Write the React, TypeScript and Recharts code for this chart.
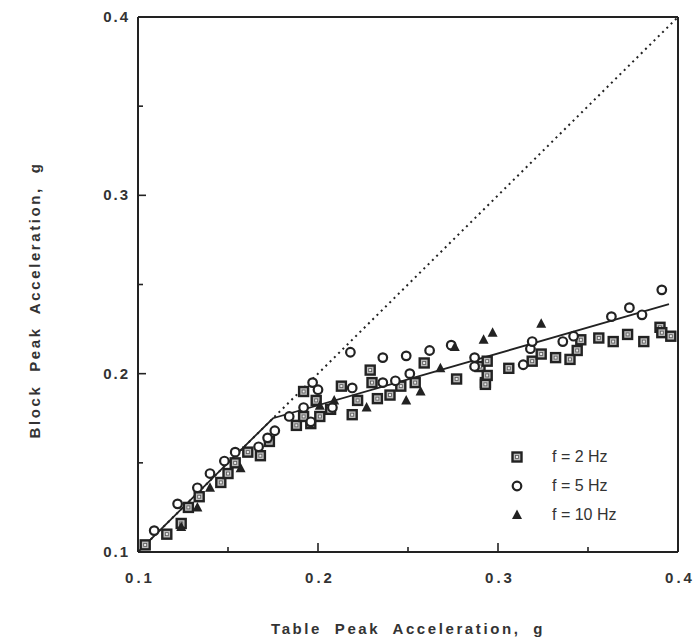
import React from "react";
import {
  ScatterChart,
  Scatter,
  XAxis,
  YAxis,
  ReferenceLine,
} from "recharts";

// f = 2 Hz (squares)
const hz2 = [
  [0.104, 0.104], [0.116, 0.11], [0.124, 0.116], [0.128, 0.125], [0.134, 0.131],
  [0.146, 0.139], [0.15, 0.144], [0.154, 0.15], [0.161, 0.156], [0.168, 0.154],
  [0.173, 0.162], [0.188, 0.171], [0.196, 0.172], [0.192, 0.19], [0.199, 0.185],
  [0.192, 0.176], [0.201, 0.176], [0.207, 0.18], [0.213, 0.193], [0.219, 0.177],
  [0.222, 0.185], [0.229, 0.202], [0.23, 0.195], [0.233, 0.186], [0.24, 0.188],
  [0.246, 0.193], [0.254, 0.195], [0.259, 0.206], [0.277, 0.197], [0.29, 0.204],
  [0.294, 0.207], [0.293, 0.195], [0.294, 0.199], [0.293, 0.194], [0.306, 0.203],
  [0.319, 0.207], [0.324, 0.211], [0.332, 0.209], [0.34, 0.208], [0.344, 0.213],
  [0.346, 0.219], [0.356, 0.22], [0.364, 0.218], [0.372, 0.222], [0.381, 0.218],
  [0.39, 0.226], [0.391, 0.223], [0.396, 0.221],
];

// f = 5 Hz (circles)
const hz5 = [
  [0.109, 0.112], [0.122, 0.127], [0.133, 0.136], [0.14, 0.144], [0.148, 0.151],
  [0.154, 0.156], [0.167, 0.159], [0.172, 0.164], [0.176, 0.168], [0.184, 0.176],
  [0.192, 0.181], [0.197, 0.195], [0.2, 0.191], [0.208, 0.181], [0.196, 0.173],
  [0.218, 0.212], [0.219, 0.192], [0.236, 0.209], [0.236, 0.195], [0.243, 0.196],
  [0.249, 0.21], [0.251, 0.2], [0.262, 0.213], [0.274, 0.216], [0.287, 0.209],
  [0.287, 0.204], [0.314, 0.205], [0.318, 0.214], [0.319, 0.218], [0.336, 0.218],
  [0.342, 0.221], [0.363, 0.232], [0.373, 0.237], [0.38, 0.233], [0.391, 0.247],
];

// f = 10 Hz (triangles)
const hz10 = [
  [0.124, 0.114], [0.133, 0.125], [0.14, 0.136], [0.157, 0.147], [0.201, 0.182],
  [0.209, 0.185], [0.227, 0.181], [0.249, 0.185], [0.257, 0.19], [0.268, 0.203],
  [0.276, 0.215], [0.292, 0.219], [0.297, 0.223], [0.324, 0.228],
];

// equality line and fitted line
const equality = [[0.1, 0.1], [0.4, 0.4]];
const fitted = [[0.1, 0.1], [0.175, 0.175], [0.395, 0.239]];

const xTicks = [0.1, 0.15, 0.2, 0.25, 0.3, 0.35, 0.4];
const yTicks = [0.1, 0.15, 0.2, 0.25, 0.3, 0.35, 0.4];

const toPts = (arr: number[][]) => arr.map(([x, y]) => ({ x, y }));

const INK = "#222";
const FONT = "'Liberation Sans', Arial, sans-serif";

const isMajor = (v: number) => Math.abs(v * 10 - Math.round(v * 10)) < 1e-6;

const SquareMark = ({ cx, cy }: any) => (
  <g>
    <rect x={cx - 4.5} y={cy - 4.5} width={9} height={9} fill="#bbb" stroke={INK} strokeWidth={2.4} />
    <rect x={cx - 1.5} y={cy - 1.5} width={3} height={3} fill="#eee" stroke="#555" strokeWidth={0.8} />
  </g>
);

const CircleMark = ({ cx, cy }: any) => (
  <circle cx={cx} cy={cy} r={4.3} fill="#fff" stroke={INK} strokeWidth={2.2} />
);

const TriMark = ({ cx, cy }: any) => (
  <path d={`M${cx},${cy - 5.5} L${cx + 5},${cy + 4} L${cx - 5},${cy + 4} Z`} fill={INK} />
);

const YTick = ({ x, y, payload }: any) => {
  const major = isMajor(payload.value);
  return (
    <g>
      <line x1={x} x2={x + (major ? 8 : 5)} y1={y} y2={y} stroke={INK} strokeWidth={1.6} />
      {major && (
        <text x={x - 8} y={y} dy={5} textAnchor="end" fontSize={15} fontWeight="bold"
          fontFamily={FONT} fill="#333" letterSpacing={2}>
          {payload.value.toFixed(1)}
        </text>
      )}
    </g>
  );
};

const XTick = ({ x, y, payload }: any) => {
  const major = isMajor(payload.value);
  return (
    <g>
      <line x1={x} x2={x} y1={y} y2={y - (major ? 9 : 5)} stroke={INK} strokeWidth={1.6} />
      {major && (
        <text x={x + 2} y={y + 31} textAnchor="middle" fontSize={15} fontWeight="bold"
          fontFamily={FONT} fill="#333" letterSpacing={3}>
          {payload.value.toFixed(1)}
        </text>
      )}
    </g>
  );
};

const legendItems = [
  { label: "f = 2 Hz", Mark: SquareMark },
  { label: "f = 5 Hz", Mark: CircleMark },
  { label: "f = 10 Hz", Mark: TriMark },
];

const LegendBox = () => (
  <svg width={150} height={90} style={{ position: "absolute", left: 509, top: 443 }}>
    {legendItems.map((it, i) => (
      <g key={it.label}>
        <it.Mark cx={8} cy={14 + i * 29} />
        <text x={43} y={19 + i * 29} fontSize={16} fontFamily={FONT} fill="#333">
          {it.label}
        </text>
      </g>
    ))}
  </svg>
);

const Nothing = () => null;

const titleStyle = {
  fontSize: 15,
  fontWeight: "bold",
  fontFamily: FONT,
  fill: "#333",
  letterSpacing: 2.6,
  wordSpacing: 6,
};

const YTitle = () => (
  <text transform="translate(40,300) rotate(-90)" textAnchor="middle" style={titleStyle as any}>
    Block Peak Acceleration, g
  </text>
);

export default function App() {
  return (
    <div style={{ position: "absolute", left: 0, top: 0, width: 696, height: 637, background: "#fff" }}>
      <ScatterChart width={696} height={637} margin={{ top: 17, right: 18, left: 0, bottom: 0 }}>
        <XAxis
          type="number"
          dataKey="x"
          domain={[0.1, 0.4]}
          ticks={xTicks}
          tick={<XTick />}
          tickSize={0}
          tickMargin={0}
          tickLine={false}
          height={85}
          stroke={INK}
          strokeWidth={2}
          allowDataOverflow
          label={{
            value: "Table Peak Acceleration, g",
            position: "insideBottom",
            offset: 3,
            style: titleStyle,
          }}
        />
        <YAxis
          type="number"
          dataKey="y"
          domain={[0.1, 0.4]}
          ticks={yTicks}
          tick={<YTick />}
          tickSize={0}
          tickMargin={0}
          tickLine={false}
          width={138}
          stroke={INK}
          strokeWidth={2}
          allowDataOverflow
          label={{ content: <YTitle /> }}
        />
        <ReferenceLine x={0.4} stroke={INK} strokeWidth={2} />
        <ReferenceLine y={0.4} stroke={INK} strokeWidth={2} />
        <Scatter
          data={toPts(equality)}
          shape={<Nothing />}
          line={{ stroke: INK, strokeWidth: 2, strokeDasharray: "2 4" }}
          isAnimationActive={false}
          legendType="none"
        />
        <Scatter
          data={toPts(fitted)}
          shape={<Nothing />}
          line={{ stroke: INK, strokeWidth: 1.8 }}
          isAnimationActive={false}
          legendType="none"
        />
        <Scatter name="f = 2 Hz" data={toPts(hz2)} shape={<SquareMark />} isAnimationActive={false} />
        <Scatter name="f = 5 Hz" data={toPts(hz5)} shape={<CircleMark />} isAnimationActive={false} />
        <Scatter name="f = 10 Hz" data={toPts(hz10)} shape={<TriMark />} isAnimationActive={false} />
      </ScatterChart>
      <LegendBox />
    </div>
  );
}
